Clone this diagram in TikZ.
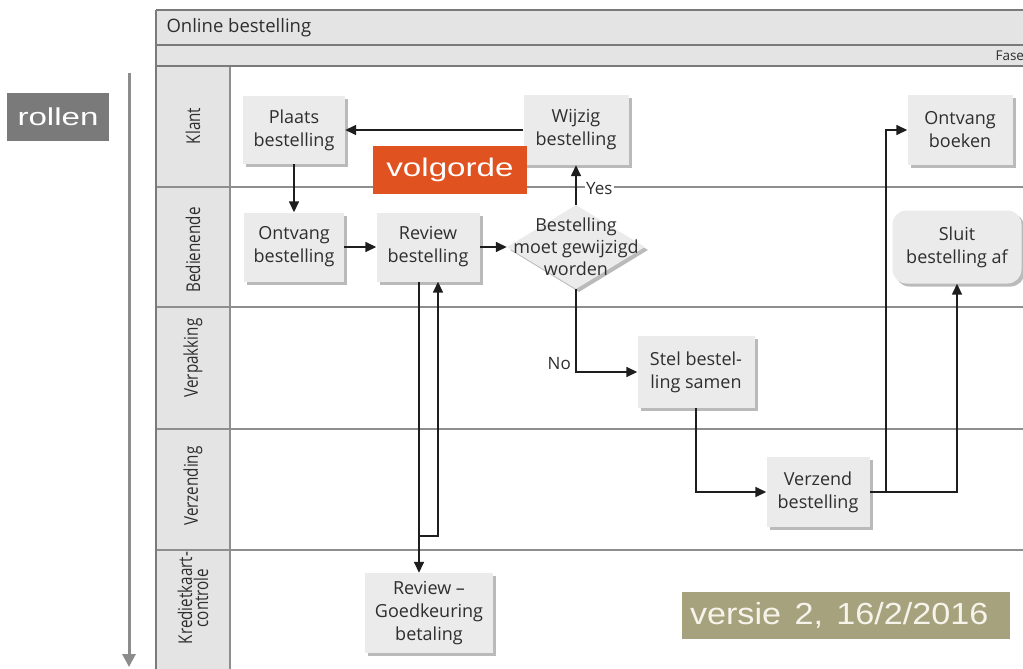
\documentclass[tikz,border=0pt]{standalone}
\usepackage{graphicx}
\usepackage{fontspec}
\setmainfont{Open Sans}
\newfontfamily\bannerfont{Liberation Sans}
\newfontfamily\lanefont[FakeStretch=0.8]{Open Sans}
\usetikzlibrary{arrows.meta,shapes.geometric,shadows}

\definecolor{boxgray}{HTML}{EBEBEB}
\definecolor{panelgray}{HTML}{E4E4E4}
\definecolor{gridcol}{HTML}{8E8E8E}
\definecolor{framecol}{HTML}{7A7A7A}
\definecolor{inkcol}{HTML}{1E1E1E}
\definecolor{textcol}{HTML}{2E2E2E}
\definecolor{rollgray}{HTML}{7A7A7A}
\definecolor{arrowgray}{HTML}{8C8C8C}
\definecolor{orderorange}{HTML}{E0521F}
\definecolor{olive}{HTML}{A6A27E}
\definecolor{offwhite}{HTML}{F6F4EA}

\begin{document}
\begin{tikzpicture}[x=1pt,y=-1pt,
  boxshadow/.style={drop shadow={shadow xshift=3pt,shadow yshift=-3pt,fill=black!60,opacity=.45}},
  task/.style={fill=boxgray, draw=none, align=center, text=textcol, inner sep=2pt,
    font=\fontsize{18}{23}\selectfont, boxshadow},
  decision/.style={diamond, fill=boxgray, draw=none, inner sep=0pt, boxshadow},
  flow/.style={draw=inkcol, line width=1.5pt, -{Triangle[length=11pt,width=10pt]}},
  grid/.style={draw=gridcol, line width=1.2pt},
  frame/.style={draw=framecol, line width=1.4pt},
  lanelabel/.style={rotate=90, align=center, text=textcol, inner sep=0pt,
    font=\lanefont\fontsize{19}{16}\selectfont},
  flowlabel/.style={text=textcol, font=\fontsize{17}{19}\selectfont, inner sep=1pt},
  banner/.style={text=white, inner sep=0pt}
]
\useasboundingbox (0,0) rectangle (1023,669);
\clip (0,0) rectangle (1023,669);
\fill[white] (0,0) rectangle (1023,669);

% pool header bars and lane label column
\fill[panelgray] (156,10) rectangle (1040,66);
\fill[panelgray] (156,66) rectangle (230,690);

% lane separators
\foreach \yy in {187,307,429,550}
  \draw[grid] (156,\yy) -- (1040,\yy);
\draw[grid] (230,66) -- (230,690);
\draw[frame] (156,10) -- (1040,10);
\draw[frame] (156,45) -- (1040,45);
\draw[frame] (156,66) -- (1040,66);
\draw[frame] (156,10) -- (156,690);

% headings
\node[anchor=west, text=textcol, font=\fontsize{18.5}{22}\selectfont] (title) at (163,28) {Online bestelling};
\node[anchor=west, text=textcol, font=\fontsize{13.5}{15}\selectfont] (fase) at (992,56) {Fase};

% lane names
\node[lanelabel] (lklant) at (193,126) {Klant};
\node[lanelabel] (lbed) at (193,250) {Bedienende};
\node[lanelabel] (lverp) at (193,358) {Verpakking};
\node[lanelabel] (lverz) at (193,486) {Verzending};
\node[lanelabel] (lkred) at (193,598) {Kredietkaart-\\controle};

% process steps
\node[task, minimum width=102pt, minimum height=68pt] (plaats) at (294,130) {Plaats\\bestelling};
\node[task, minimum width=105pt, minimum height=70pt] (wijzig) at (576,130) {Wijzig\\bestelling};
\node[task, minimum width=105pt, minimum height=70pt] (ontvboek) at (960,130) {Ontvang\\boeken};
\node[task, minimum width=100pt, minimum height=69pt] (ontvbest) at (294,247) {Ontvang\\bestelling};
\node[task, minimum width=103pt, minimum height=69pt] (review) at (428,247) {Review\\bestelling};
\node[task, rounded corners=14pt, minimum width=129pt, minimum height=73pt] (sluit) at (957,247) {Sluit\\bestelling af};
\node[task, minimum width=117pt, minimum height=72pt] (stel) at (696,372) {Stel bestel-\\ling samen};
\node[task, minimum width=103pt, minimum height=70pt] (verzend) at (818,492) {Verzend\\bestelling};
\node[task, minimum width=128pt, minimum height=80pt] (goedk) at (429,613) {Review --\\Goedkeuring\\betaling};

% decision
\node[decision, minimum width=138pt, minimum height=84pt] (dec) at (576,247) {};
\node[align=center, text=textcol, font=\fontsize{18}{22}\selectfont, inner sep=0pt] (dectext) at (576,247) {Bestelling\\moet gewijzigd\\worden};

% connectors
\draw[flow] (wijzig.west) -- (plaats.east);
\draw[flow] (plaats.south) -- (ontvbest.north);
\draw[flow] (ontvbest.east) -- (review.west);
\draw[flow] (review.east) -- (dec.west);
\draw[flow] (dec.north) -- (wijzig.south);
\draw[flow] (dec.south) |- (stel.west);
\draw[flow] (stel.south) |- (verzend.west);
\coordinate (fork) at (886,492);
\draw[flow] (verzend.east) -- (fork) |- (ontvboek.west);
\draw[flow] (fork) -| (sluit.south);
\draw[flow] ([xshift=-9pt]review.south) -- ([xshift=-9pt]review.south |- goedk.north);
\coordinate (back) at (419,536);
\draw[flow] (back) -| ([xshift=10pt]review.south);

% branch labels
\node[flowlabel, fill=white, anchor=west] (yes) at (585,189) {Yes};
\node[flowlabel, anchor=east] (no) at (572,364) {No};

% role axis
\coordinate (axtop) at (129,73);
\coordinate (axbot) at (129,667);
\draw[draw=arrowgray, line width=3pt, -{Triangle[length=13pt,width=13pt]}] (axtop) -- (axbot);

% annotation banners
\node[banner, fill=rollgray, minimum width=102pt, minimum height=48pt] (rollen) at (58,117)
  {\scalebox{1.35}[1]{\bannerfont\fontsize{24.5}{28}\selectfont rollen}};
\node[banner, fill=orderorange, minimum width=154pt, minimum height=48pt] (volgorde) at (450,170)
  {\scalebox{1.3}[1]{\bannerfont\fontsize{25.5}{28}\selectfont volgorde}};
\node[banner, fill=olive, text=offwhite, text width=312pt, align=left, inner xsep=8pt,
  minimum height=47pt] (versie) at (846,615)
  {\scalebox{1.12}[1]{\bannerfont\fontsize{30.5}{34}\selectfont versie\hspace{12pt}2,\hspace{12pt}16/2/2016}};
\end{tikzpicture}
\end{document}
